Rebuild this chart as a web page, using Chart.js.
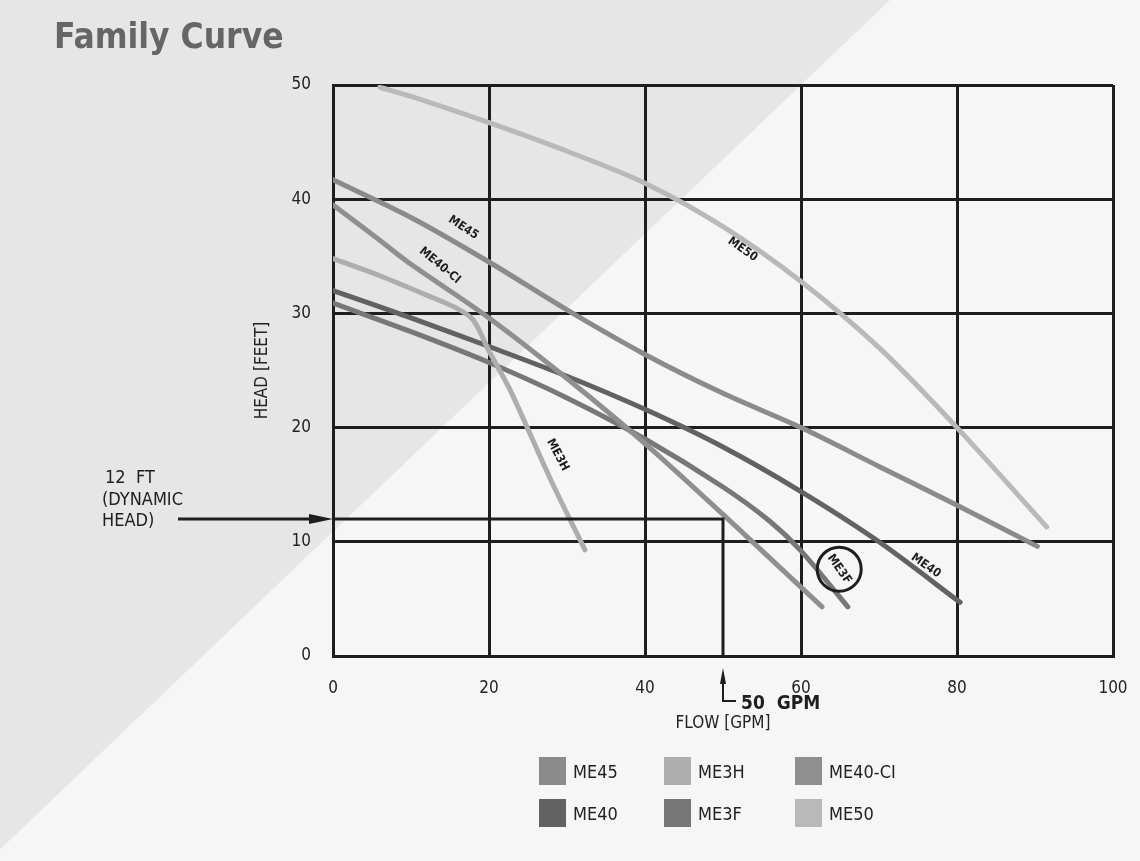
<!DOCTYPE html>
<html>
<head>
<meta charset="utf-8">
<script src="https://cdn.jsdelivr.net/npm/chart.js@4.4.1/dist/chart.umd.min.js"></script>
<style>
  body { margin: 0; background: #f4f4f4; }
  #wrap { position: relative; width: 1140px; height: 861px; overflow: hidden; }
  #legend { position: absolute; left: 0; top: 0; width: 1140px; height: 861px; pointer-events: none; }
  .item { position: absolute; display: flex; align-items: center; font: 18px 'DejaVu Sans Condensed', 'DejaVu Sans', sans-serif; color: #222; }
  .box { width: 27px; height: 28px; margin-right: 7px; }
</style>
</head>
<body>
<div id="wrap">
  <canvas id="chart" width="1140" height="861"></canvas>
  <div id="legend"></div>
</div>
<script>
// pump names, in legend order
const seriesNames = ['ME45', 'ME3H', 'ME40-CI', 'ME40', 'ME3F', 'ME50']
const seriesColors = ['#8b8b8b', '#adadad', '#8f8f8f', '#626262', '#777777', '#b9b9b9']

// flow (gpm) / head (feet)
const me45Flow = [0, 10, 20, 30, 40, 50, 60, 70, 80, 90.3]
const me45Head = [41.7, 38.4, 34.5, 30.3, 26.4, 23.0, 20.0, 16.6, 13.2, 9.6]
const me3hFlow = [0, 6, 12, 16, 18, 20, 22.7, 28, 32.3]
const me3hHead = [34.8, 33.3, 31.6, 30.4, 29.4, 26.7, 23.3, 15.3, 9.3]
const me40ciFlow = [0, 6, 10, 20, 30, 40, 50, 62.7]
const me40ciHead = [39.5, 36.4, 34.3, 29.6, 24.3, 18.6, 12.4, 4.3]
const me40Flow = [0, 10, 20, 30, 40, 50, 60, 70, 80.4]
const me40Head = [32.0, 29.6, 27.1, 24.5, 21.6, 18.3, 14.4, 10.0, 4.7]
const me3fFlow = [0, 10, 20, 30, 40, 50, 56, 60, 66]
const me3fHead = [30.9, 28.4, 25.7, 22.6, 19.0, 14.8, 11.8, 9.2, 4.3]
const me50Flow = [6, 10, 20, 30, 40, 50, 60, 70, 80, 91.5]
const me50Head = [49.8, 49.0, 46.7, 44.2, 41.4, 37.6, 32.8, 27.0, 20.0, 11.3]

const flowTicks = [0, 20, 40, 60, 80, 100]
const headTicks = [0, 10, 20, 30, 40, 50]

// operating point marked on the chart
const dutyFlow = 50
const dutyHead = 12

const fontFam = "'DejaVu Sans Condensed', 'DejaVu Sans', sans-serif"
const ink = '#1e1e1e'

function toPoints(flow, head) {
    return flow.map((f, i) => ({x: f, y: head[i]}))
}

const curves = [
    toPoints(me45Flow, me45Head),
    toPoints(me3hFlow, me3hHead),
    toPoints(me40ciFlow, me40ciHead),
    toPoints(me40Flow, me40Head),
    toPoints(me3fFlow, me3fHead),
    toPoints(me50Flow, me50Head),
]

// arrow head with tip at (x,y) pointing along angle a
function arrowHead(ctx, x, y, a, len, half) {
    ctx.save()
    ctx.translate(x, y)
    ctx.rotate(a)
    ctx.beginPath()
    ctx.moveTo(0, 0)
    ctx.lineTo(-len, -half)
    ctx.lineTo(-len, half)
    ctx.closePath()
    ctx.fill()
    ctx.restore()
}

function tag(ctx, text, x, y, deg) {
    ctx.save()
    ctx.translate(x, y)
    ctx.rotate(deg * Math.PI / 180)
    ctx.fillText(text, 0, 0)
    ctx.restore()
}

const decor = {
    id: 'decor',
    beforeDraw(chart) {
        const ctx = chart.ctx
        const w = chart.width, h = chart.height
        ctx.save()
        ctx.fillStyle = '#f6f6f6'
        ctx.fillRect(0, 0, w, h)
        // grey scan shading left of the diagonal
        ctx.fillStyle = '#e6e6e6'
        ctx.beginPath()
        ctx.moveTo(0, 0)
        ctx.lineTo(890, 0)
        ctx.lineTo(-12, h)
        ctx.lineTo(0, h)
        ctx.closePath()
        ctx.fill()
        ctx.fillStyle = '#666666'
        ctx.font = "bold 35px 'DejaVu Sans Condensed', 'DejaVu Sans', sans-serif"
        ctx.textBaseline = 'alphabetic'
        ctx.fillText('Family Curve', 54, 48)
        ctx.restore()
    },
    afterDatasetsDraw(chart) {
        const ctx = chart.ctx
        const xs = chart.scales.x, ys = chart.scales.y
        const px = v => xs.getPixelForValue(v)
        const py = v => ys.getPixelForValue(v)
        const left = chart.chartArea.left, bottom = chart.chartArea.bottom
        ctx.save()
        ctx.strokeStyle = ink
        ctx.fillStyle = ink
        ctx.lineWidth = 3
        ctx.lineCap = 'butt'

        // 12 ft line and 50 gpm drop
        ctx.beginPath()
        ctx.moveTo(178, py(dutyHead))
        ctx.lineTo(left - 20, py(dutyHead))
        ctx.stroke()
        arrowHead(ctx, left, py(dutyHead), 0, 24, 5)
        ctx.beginPath()
        ctx.moveTo(left, py(dutyHead))
        ctx.lineTo(px(dutyFlow), py(dutyHead))
        ctx.lineTo(px(dutyFlow), bottom)
        ctx.stroke()

        // arrow below the axis pointing up to 50 gpm
        ctx.lineWidth = 2
        ctx.beginPath()
        ctx.moveTo(px(dutyFlow), bottom + 24)
        ctx.lineTo(px(dutyFlow), bottom + 45)
        ctx.lineTo(px(dutyFlow) + 13, bottom + 45)
        ctx.stroke()
        arrowHead(ctx, px(dutyFlow), bottom + 12, -Math.PI / 2, 16, 3)

        ctx.font = 'bold 19px ' + fontFam
        ctx.textBaseline = 'middle'
        ctx.fillText('50  GPM', px(dutyFlow) + 18, bottom + 48)

        ctx.font = '18px ' + fontFam
        ctx.fillText('12  FT', 105, 478)
        ctx.fillText('(DYNAMIC', 102, 500)
        ctx.fillText('HEAD)', 102, 521)

        // curve tags
        ctx.font = 'bold 12px ' + fontFam
        ctx.textAlign = 'center'
        tag(ctx, 'ME45', px(16.7), py(37.5), 33)
        tag(ctx, 'ME40-CI', px(13.7), py(34.2), 40)
        tag(ctx, 'ME50', px(52.5), py(35.6), 35)
        tag(ctx, 'ME3H', px(28.8), py(17.6), 62)
        tag(ctx, 'ME3F', px(64.9), py(7.6), 55)
        tag(ctx, 'ME40', px(76), py(7.9), 35)
        ctx.lineWidth = 3
        ctx.beginPath()
        ctx.arc(px(64.9), py(7.6), 22, 0, Math.PI * 2)
        ctx.stroke()
        ctx.restore()
    }
}

const config = {
    type: 'line',
    data: {
        datasets: seriesNames.map((name, i) => ({
            label: name,
            data: curves[i],
            borderColor: seriesColors[i],
            backgroundColor: seriesColors[i],
            borderWidth: 5,
            borderCapStyle: 'round',
            pointRadius: 0,
            tension: 0.3,
            fill: false,
        }))
    },
    options: {
        responsive: false,
        animation: false,
        devicePixelRatio: 1,
        layout: {padding: {left: 252, top: 85, right: 27, bottom: 125}},
        plugins: {legend: {display: false}, tooltip: {enabled: false}},
        scales: {
            x: {
                type: 'linear', min: 0, max: 100,
                afterBuildTicks: s => { s.ticks = flowTicks.map(v => ({value: v})) },
                afterFit: s => { s.height = 80; s.paddingLeft = 0; s.paddingRight = 0 },
                grid: {color: ink, lineWidth: 3, drawTicks: false},
                border: {color: ink, width: 3},
                ticks: {padding: 22, color: '#222', font: {family: fontFam, size: 17}},
                title: {display: true, text: 'FLOW [GPM]', color: '#222', font: {family: fontFam, size: 17}, padding: {top: 0, bottom: 2}}
            },
            y: {
                type: 'linear', min: 0, max: 50,
                afterBuildTicks: s => { s.ticks = headTicks.map(v => ({value: v})) },
                afterFit: s => { s.width = 81; s.paddingTop = 0; s.paddingBottom = 0 },
                grid: {color: ink, lineWidth: 3, drawTicks: false},
                border: {color: ink, width: 3},
                ticks: {padding: 22, color: '#222', font: {family: fontFam, size: 17}},
                title: {display: true, text: 'HEAD [FEET]', color: '#222', font: {family: fontFam, size: 17}, padding: {top: 0, bottom: 0}}
            }
        }
    },
    plugins: [decor]
}

const myChart = new Chart(document.querySelector('#chart'), config)

// legend, three per row
const legend = document.querySelector('#legend')
const colLeft = [539, 664, 795]
const rowTop = [757, 799]
seriesNames.forEach((name, i) => {
    const item = document.createElement('div')
    item.classList.add('item')
    item.style.left = colLeft[i % 3] + 'px'
    item.style.top = rowTop[Math.floor(i / 3)] + 'px'
    const box = document.createElement('div')
    box.classList.add('box')
    box.style.background = seriesColors[i]
    const label = document.createElement('span')
    label.textContent = name
    item.append(box, label)
    legend.append(item)
})
</script>
</body>
</html>
